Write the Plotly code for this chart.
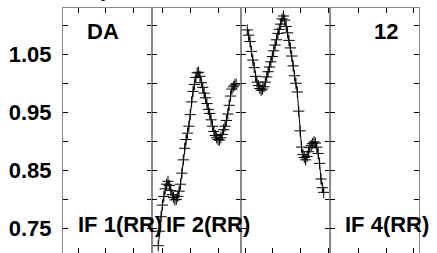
import plotly.graph_objects as go
from plotly.subplots import make_subplots

# ---- data ----
panel_labels = ["IF 1(RR)", "IF 2(RR)", "", "IF 4(RR)"]
corner_left = "DA"
corner_right = "12"

if2_channels = list(range(5, 62))
if2_amp = [0.720, 0.745, 0.770, 0.790, 0.805, 0.818, 0.826, 0.831, 0.824, 0.815,
           0.808, 0.803, 0.799, 0.800, 0.805, 0.814, 0.826, 0.845, 0.868, 0.888,
           0.903, 0.914, 0.926, 0.946, 0.968, 0.986, 0.998, 1.010, 1.018, 1.019,
           1.012, 1.001, 0.993, 0.983, 0.975, 0.965, 0.955, 0.948, 0.937, 0.926,
           0.917, 0.910, 0.906, 0.903, 0.902, 0.906, 0.912, 0.920, 0.926, 0.936,
           0.947, 0.962, 0.978, 0.990, 0.994, 0.997, 0.999]

if3_channels = list(range(5, 61))
if3_amp = [1.092, 1.083, 1.072, 1.055, 1.040, 1.027, 1.012, 1.002, 0.996, 0.991,
           0.988, 0.990, 0.994, 1.002, 1.011, 1.020, 1.028, 1.037, 1.046, 1.056,
           1.066, 1.075, 1.086, 1.093, 1.102, 1.111, 1.116, 1.109, 1.098, 1.087,
           1.074, 1.061, 1.047, 1.030, 1.013, 1.000, 0.985, 0.952, 0.918, 0.890,
           0.877, 0.872, 0.868, 0.874, 0.882, 0.889, 0.893, 0.896, 0.899, 0.897,
           0.890, 0.879, 0.862, 0.835, 0.820, 0.812]

y_tickvals = [0.75, 0.80, 0.85, 0.90, 0.95, 1.00, 1.05, 1.10]
y_ticktext = ["0.75", "", "0.85", "", "0.95", "", "1.05", ""]

# ---- figure ----
W, H = 437, 253
ML, MR, MT, MB = 63, 18, 8, 0
PW = W - ML - MR
PH = H - MT - MB

fig = make_subplots(rows=1, cols=4, horizontal_spacing=0, shared_yaxes=True)

line_style = dict(color="black", width=1)
marker_style = dict(symbol="cross-thin", size=8, line=dict(color="black", width=1), color="black")

# empty panels still need a trace so their axes are drawn
fig.add_trace(go.Scatter(x=[None], y=[None], mode="markers", showlegend=False, hoverinfo="skip"), row=1, col=1)
fig.add_trace(go.Scatter(x=if2_channels, y=if2_amp, mode="lines+markers",
                         line=line_style, marker=marker_style, showlegend=False), row=1, col=2)
fig.add_trace(go.Scatter(x=if3_channels, y=if3_amp, mode="lines+markers",
                         line=line_style, marker=marker_style, showlegend=False), row=1, col=3)
fig.add_trace(go.Scatter(x=[None], y=[None], mode="markers", showlegend=False, hoverinfo="skip"), row=1, col=4)

x_ticks = [[11.3, 31.3, 51.0], [8.0, 28.2, 48.1], [3.9, 23.4, 43.1, 63.1], [21.0, 41.2, 60.7]]

axis_common = dict(showline=True, mirror="allticks", linecolor="#8a8a8a", linewidth=1.2,
                   ticks="inside", ticklen=5, tickcolor="black", tickwidth=1,
                   showgrid=False, zeroline=False, automargin=False)

for i in range(4):
    fig.update_xaxes(range=[0.5, 64.5], tickvals=x_ticks[i], showticklabels=False,
                     **axis_common, row=1, col=i + 1)
    fig.update_yaxes(range=[0.7074, 1.1298], tickvals=y_tickvals,
                     ticktext=["<b>%s</b>" % t if t else "" for t in y_ticktext],
                     showticklabels=(i == 0), **axis_common, row=1, col=i + 1)

fig.update_yaxes(tickfont=dict(family="Liberation Sans, Arial", size=22, color="black"),
                 ticklabelstandoff=6, row=1, col=1)

font = dict(family="Liberation Sans, Arial", size=22, color="black")

def px_x(p):
    return (p - ML) / PW

def px_y(p):
    return (H - MB - p) / PH

annos = []
annos.append(dict(text=corner_left, x=px_x(103), y=px_y(32), xanchor="center", yanchor="middle"))
annos.append(dict(text=corner_right, x=px_x(386), y=px_y(32), xanchor="center", yanchor="middle"))
label_left = [76, 164, 252, 343]
for lab, lx in zip(panel_labels, label_left):
    if lab:
        annos.append(dict(text=lab, x=px_x(lx), y=px_y(224), xanchor="left", yanchor="middle"))
# partially visible title glyphs at the very top edge
annos.append(dict(text="p", x=px_x(106), y=px_y(3), xanchor="center", yanchor="bottom"))
annos.append(dict(text=",", x=px_x(271), y=px_y(3), xanchor="center", yanchor="bottom"))

for a in annos:
    a["text"] = "<b>%s</b>" % a["text"]
    fig.add_annotation(xref="paper", yref="paper", showarrow=False, font=font, **a)

fig.update_layout(width=W, height=H, margin=dict(l=ML, r=MR, t=MT, b=MB, pad=0, autoexpand=False),
                  paper_bgcolor="white", plot_bgcolor="white")

fig.write_html("out.html", config={"displayModeBar": False},
               post_script="document.body.style.margin='0';document.body.style.overflow='hidden';")
